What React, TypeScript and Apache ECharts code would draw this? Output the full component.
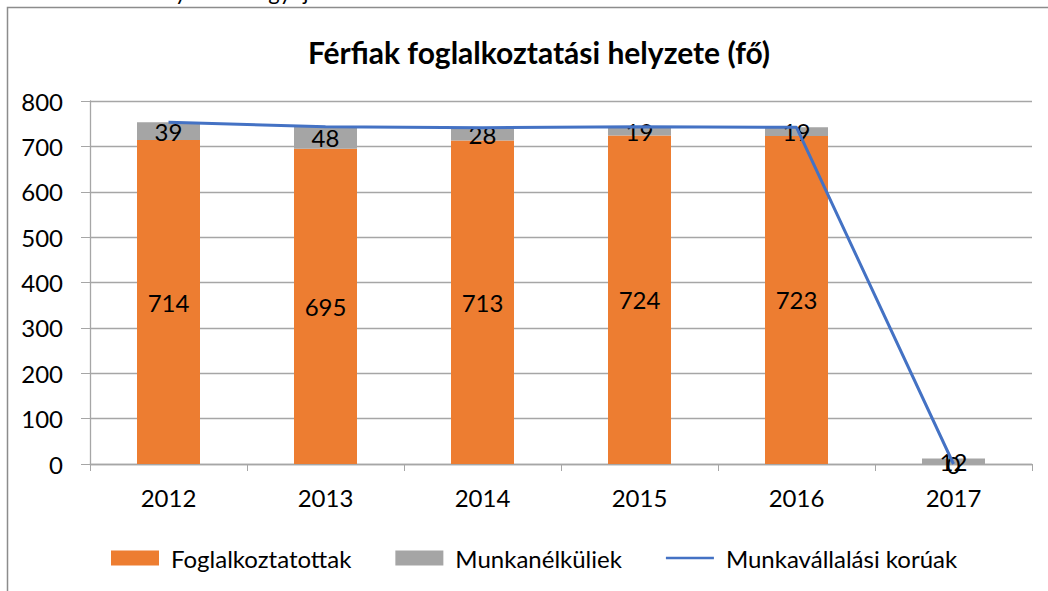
import React, { useEffect, useRef } from "react";
import * as echarts from "echarts";

const years = ["2012", "2013", "2014", "2015", "2016", "2017"];
const employed = [714, 695, 713, 724, 723, 0];
const unemployed = [39, 48, 28, 19, 19, 12];
const workingAge = [753, 743, 741, 743, 742, 0];
const yTicks = { min: 0, max: 800, interval: 100 };

const FONT = "Lato, 'Open Sans', sans-serif";

export default function App() {
  const ref = useRef<HTMLDivElement>(null);
  useEffect(() => {
    document.body.style.margin = "0";
    const chart = echarts.init(ref.current!, null, { renderer: "svg" });
    chart.setOption({
      animation: false,
      backgroundColor: "#ffffff",
      textStyle: { fontFamily: FONT },
      title: {
        text: "Férfiak foglalkoztatási helyzete (fő)",
        left: 534,
        textAlign: "center",
        top: 32,
        textStyle: { fontFamily: FONT, fontSize: 30, fontWeight: "bold", color: "#000" },
      },
      graphic: [
        {
          type: "rect",
          shape: { x: 7.5, y: 7.5, width: 1200, height: 800 },
          style: { fill: "none", stroke: "#8c8c8c", lineWidth: 1.5 },
          silent: true,
        },
        {
          type: "text",
          x: 2,
          y: -20,
          style: {
            text: "Forrás: Önkormányzati adatgyűjtés",
            fontFamily: FONT,
            fontSize: 22,
            fill: "#000",
          },
        },
      ],
      legend: {
        top: 541,
        left: 106,
        itemWidth: 48,
        itemHeight: 15,
        itemGap: 44,
        textStyle: { fontFamily: FONT, fontSize: 24, color: "#000", padding: [0, 0, 0, 7] },
        data: [
          { name: "Foglalkoztatottak", icon: "rect" },
          { name: "Munkanélküliek", icon: "rect" },
          { name: "Munkavállalási korúak", icon: "path://M0,0H54V3H0Z" },
        ],
      },
      grid: { left: 90, right: 16, top: 101, bottom: 127 },
      xAxis: {
        type: "category",
        data: years,
        axisLine: { lineStyle: { color: "#a6a6a6", width: 1.3 } },
        axisTick: { show: true, length: 7, lineStyle: { color: "#a6a6a6" } },
        axisLabel: { fontFamily: FONT, fontSize: 24, color: "#000", margin: 21 },
      },
      yAxis: {
        type: "value",
        min: yTicks.min,
        max: yTicks.max,
        interval: yTicks.interval,
        axisLine: { show: true, lineStyle: { color: "#a6a6a6", width: 1.3 } },
        axisTick: { show: true, length: 9, lineStyle: { color: "#a6a6a6" } },
        axisLabel: { fontFamily: FONT, fontSize: 24, color: "#000", margin: 27 },
        splitLine: { lineStyle: { color: "#a6a6a6", width: 1.3 } },
      },
      series: [
        {
          name: "Foglalkoztatottak",
          type: "bar",
          stack: "a",
          barWidth: 63,
          data: employed,
          itemStyle: { color: "#ED7D31" },
          label: { show: true, position: "inside", fontFamily: FONT, fontSize: 24, color: "#000" },
        },
        {
          name: "Munkanélküliek",
          type: "bar",
          stack: "a",
          barWidth: 63,
          data: unemployed,
          itemStyle: { color: "#A5A5A5" },
          label: { show: true, position: "inside", fontFamily: FONT, fontSize: 24, color: "#000" },
        },
        {
          name: "Munkavállalási korúak",
          type: "line",
          data: workingAge,
          symbol: "none",
          lineStyle: { color: "#4472C4", width: 3 },
          itemStyle: { color: "#4472C4" },
        },
      ],
    });
    return () => chart.dispose();
  }, []);
  return (
    <div
      ref={ref}
      style={{ position: "absolute", left: 0, top: 0, width: 1048, height: 591 }}
    />
  );
}
